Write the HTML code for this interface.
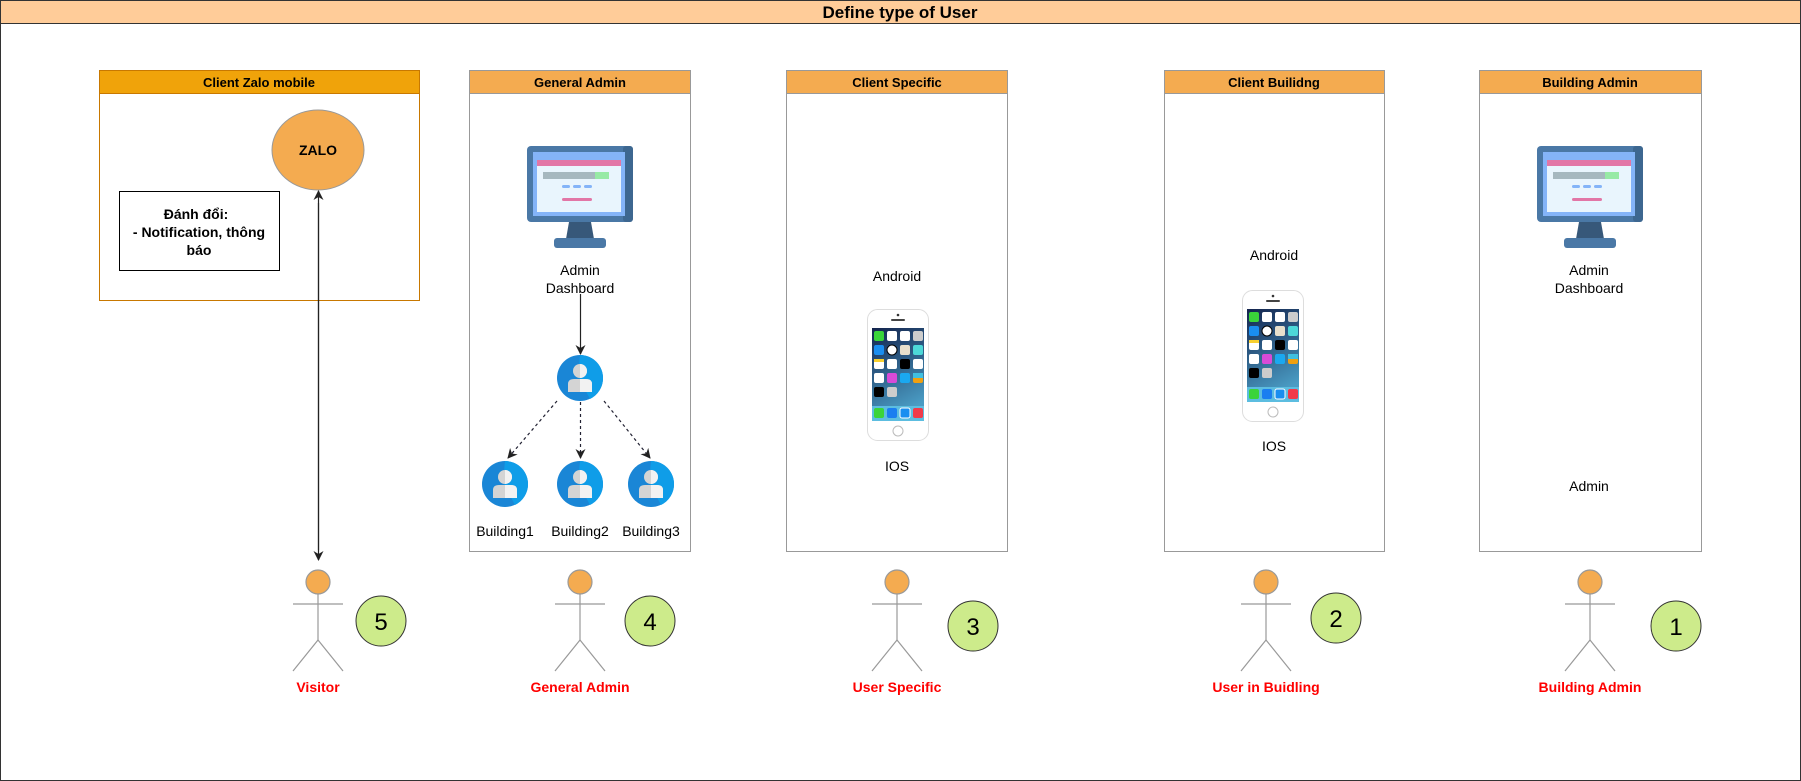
<!DOCTYPE html>
<html><head><meta charset="utf-8"><style>
html,body{margin:0;padding:0;background:#fff;}
svg{display:block;font-family:"Liberation Sans","Noto Sans CJK SC",sans-serif;}
</style></head><body>
<svg width="1801" height="781" viewBox="0 0 1801 781" xmlns="http://www.w3.org/2000/svg">
<defs>
<linearGradient id="scr" x1="0" y1="0" x2="0.3" y2="1"><stop offset="0" stop-color="#13234d"/><stop offset="1" stop-color="#4a9cc4"/></linearGradient>
<marker id="ah" markerWidth="10" markerHeight="10" refX="9" refY="5" orient="auto" markerUnits="userSpaceOnUse"><path d="M0,0 L10,5 L0,10 L3,5 Z" fill="#222"/></marker>
<g id="phone">
<rect x="0.5" y="0.5" width="61" height="131" rx="10" fill="#fff" stroke="#ddd"/>
<circle cx="31" cy="6" r="1.3" fill="#333"/><rect x="24" y="10" width="14" height="2" rx="1" fill="#444"/>
<rect x="5" y="19" width="52" height="93" fill="url(#scr)"/>
<g>
<rect x="7" y="22" width="10" height="10" rx="2" fill="#3ad43a"/><rect x="20" y="22" width="10" height="10" rx="2" fill="#fff"/><rect x="33" y="22" width="10" height="10" rx="2" fill="#fff"/><rect x="46" y="22" width="10" height="10" rx="2" fill="#ccc"/>
<rect x="7" y="36" width="10" height="10" rx="2" fill="#1a8ef0"/><circle cx="25" cy="41" r="5" fill="#fff" stroke="#000"/><rect x="33" y="36" width="10" height="10" rx="2" fill="#e8e0cc"/><rect x="46" y="36" width="10" height="10" rx="2" fill="#4dd8d8"/>
<rect x="7" y="50" width="10" height="10" rx="2" fill="#fff"/><rect x="7" y="50" width="10" height="3" fill="#f8d030"/><rect x="20" y="50" width="10" height="10" rx="2" fill="#fff"/><rect x="33" y="50" width="10" height="10" rx="2" fill="#000"/><rect x="46" y="50" width="10" height="10" rx="2" fill="#fff"/>
<rect x="7" y="64" width="10" height="10" rx="2" fill="#fff"/><rect x="20" y="64" width="10" height="10" rx="2" fill="#d84ad8"/><rect x="33" y="64" width="10" height="10" rx="2" fill="#1aa8f0"/><rect x="46" y="64" width="10" height="10" rx="2" fill="#f0a010"/><rect x="46" y="64" width="10" height="5" fill="#40c0e0"/>
<rect x="7" y="78" width="10" height="10" rx="2" fill="#000"/><rect x="20" y="78" width="10" height="10" rx="2" fill="#ccc"/>
<rect x="5" y="97" width="52" height="15" fill="#5cbde0"/>
<rect x="7" y="99" width="10" height="10" rx="2" fill="#3ad43a"/><rect x="20" y="99" width="10" height="10" rx="2" fill="#1a7ef0"/><rect x="33" y="99" width="10" height="10" rx="2" fill="#1a8ef0" stroke="#fff"/><rect x="46" y="99" width="10" height="10" rx="2" fill="#f03a4a"/>
</g>
<circle cx="31" cy="122" r="5" fill="#fff" stroke="#bbb"/>
</g>
<g id="mon">
<rect x="0" y="0" width="106" height="76" rx="4" fill="#4a78a6"/>
<rect x="96" y="0" width="10" height="76" rx="3" fill="#3d6790"/>
<rect x="6" y="6" width="92" height="64" fill="#84b4f8"/>
<rect x="10" y="14" width="84" height="52" fill="#e9f5fd"/>
<rect x="10" y="14" width="84" height="6" fill="#e276a6"/>
<rect x="16" y="26" width="52" height="7" fill="#a6b8bf"/><rect x="68" y="26" width="14" height="7" fill="#97eaa6"/>
<rect x="35" y="39" width="8" height="3" rx="1.5" fill="#84b4f8"/><rect x="46" y="39" width="8" height="3" rx="1.5" fill="#84b4f8"/><rect x="57" y="39" width="8" height="3" rx="1.5" fill="#84b4f8"/>
<rect x="35" y="52" width="30" height="3" rx="1.5" fill="#e276a6"/>
<polygon points="42,76 64,76 67,93 39,93" fill="#37587a"/>
<rect x="27" y="92" width="52" height="10" rx="3" fill="#4a78a6"/>
</g>
<g id="usr">
<circle cx="0" cy="0" r="23" fill="#1a86d6"/>
<path d="M0,-23 A23,23 0 0 1 23,0 A23,23 0 0 1 10,21 L-2,-2 Z" fill="#0f9de8"/>
<circle cx="0" cy="-7" r="7" fill="#d4d4d4"/>
<path d="M-12,14 L-12,6 Q-12,1 -6,1 L6,1 Q12,1 12,6 L12,14 Z" fill="#d4d4d4"/>
<path d="M0,-14 A7,7 0 0 1 0,0 Z M0,1 L6,1 Q12,1 12,6 L12,14 L0,14 Z" fill="#f2f2f2"/>
</g>
<g id="actor" stroke="#999" stroke-width="1.2" fill="none">
<circle cx="0" cy="0" r="12" fill="#f4ab50"/>
<line x1="0" y1="12" x2="0" y2="58"/>
<line x1="-25" y1="22" x2="25" y2="22"/>
<line x1="0" y1="58" x2="-25" y2="89"/><line x1="0" y1="58" x2="25" y2="89"/>
</g>
</defs>

<rect x="0.5" y="0.5" width="1800" height="780" fill="#fff" stroke="#333"/>
<rect x="0.5" y="0.5" width="1800" height="23" fill="#ffcc99" stroke="#333"/>
<text x="900" y="18" text-anchor="middle" font-size="17" font-weight="bold">Define type of User</text>

<!-- Col 1 -->
<rect x="99.5" y="70.5" width="320" height="230" fill="#fff" stroke="#c87800"/>
<rect x="99.5" y="70.5" width="320" height="23" fill="#f0a30a" stroke="#c87800"/>
<text x="259" y="87" text-anchor="middle" font-size="13" font-weight="bold">Client Zalo mobile</text>
<ellipse cx="318" cy="150" rx="46" ry="40" fill="#f4ab50" stroke="#999"/>
<text x="318" y="155" text-anchor="middle" font-size="14" font-weight="bold">ZALO</text>
<rect x="119.5" y="191.5" width="160" height="79" fill="#fff" stroke="#000"/>
<text text-anchor="middle" font-size="14" font-weight="bold"><tspan x="196" y="219">Đánh đổi:</tspan><tspan x="199" y="237">- Notification, thông</tspan><tspan x="199" y="255">báo</tspan></text>
<line x1="318.5" y1="203" x2="318.5" y2="560" stroke="#222" stroke-width="1.2" marker-end="url(#ah)"/>
<line x1="318.5" y1="550" x2="318.5" y2="191" stroke="#222" stroke-width="1.2" marker-end="url(#ah)"/>
<use href="#actor" x="318" y="582"/>
<circle cx="381" cy="621" r="25" fill="#cdeb8b" stroke="#333"/>
<text x="381" y="630" text-anchor="middle" font-size="24">5</text>
<text x="318" y="692" text-anchor="middle" font-size="14" font-weight="bold" fill="#ff0000">Visitor</text>

<!-- Col 2 -->
<rect x="469.5" y="70.5" width="221" height="481" fill="#fff" stroke="#999"/>
<rect x="469.5" y="70.5" width="221" height="23" fill="#f4ab50" stroke="#999"/>
<text x="580" y="87" text-anchor="middle" font-size="13" font-weight="bold">General Admin</text>
<use href="#mon" x="527" y="146"/>
<text text-anchor="middle" font-size="14"><tspan x="580" y="275">Admin</tspan><tspan x="580" y="293">Dashboard</tspan></text>
<line x1="580.5" y1="294" x2="580.5" y2="354" stroke="#222" stroke-width="1.2" marker-end="url(#ah)"/>
<use href="#usr" x="580" y="378"/>
<g stroke="#223" stroke-width="1.2" stroke-dasharray="3,3" marker-end="url(#ah)">
<line x1="557" y1="401" x2="508" y2="458"/>
<line x1="580.5" y1="402" x2="580.5" y2="458"/>
<line x1="604" y1="401" x2="650" y2="458"/>
</g>
<use href="#usr" x="505" y="484"/><use href="#usr" x="580" y="484"/><use href="#usr" x="651" y="484"/>
<text font-size="14" text-anchor="middle"><tspan x="505" y="536">Building1</tspan><tspan x="580" y="536">Building2</tspan><tspan x="651" y="536">Building3</tspan></text>
<use href="#actor" x="580" y="582"/>
<circle cx="650" cy="621" r="25" fill="#cdeb8b" stroke="#333"/>
<text x="650" y="630" text-anchor="middle" font-size="24">4</text>
<text x="580" y="692" text-anchor="middle" font-size="14" font-weight="bold" fill="#ff0000">General Admin</text>

<!-- Col 3 -->
<rect x="786.5" y="70.5" width="221" height="481" fill="#fff" stroke="#999"/>
<rect x="786.5" y="70.5" width="221" height="23" fill="#f4ab50" stroke="#999"/>
<text x="897" y="87" text-anchor="middle" font-size="13" font-weight="bold">Client Specific</text>
<text x="897" y="281" text-anchor="middle" font-size="14">Android</text>
<use href="#phone" x="867" y="309"/>
<text x="897" y="471" text-anchor="middle" font-size="14">IOS</text>
<use href="#actor" x="897" y="582"/>
<circle cx="973" cy="626" r="25" fill="#cdeb8b" stroke="#333"/>
<text x="973" y="635" text-anchor="middle" font-size="24">3</text>
<text x="897" y="692" text-anchor="middle" font-size="14" font-weight="bold" fill="#ff0000">User Specific</text>

<!-- Col 4 -->
<rect x="1164.5" y="70.5" width="220" height="481" fill="#fff" stroke="#999"/>
<rect x="1164.5" y="70.5" width="220" height="23" fill="#f4ab50" stroke="#999"/>
<text x="1274" y="87" text-anchor="middle" font-size="13" font-weight="bold">Client Builidng</text>
<text x="1274" y="260" text-anchor="middle" font-size="14">Android</text>
<use href="#phone" x="1242" y="290"/>
<text x="1274" y="451" text-anchor="middle" font-size="14">IOS</text>
<use href="#actor" x="1266" y="582"/>
<circle cx="1336" cy="618" r="25" fill="#cdeb8b" stroke="#333"/>
<text x="1336" y="627" text-anchor="middle" font-size="24">2</text>
<text x="1266" y="692" text-anchor="middle" font-size="14" font-weight="bold" fill="#ff0000">User in Buidling</text>

<!-- Col 5 -->
<rect x="1479.5" y="70.5" width="222" height="481" fill="#fff" stroke="#999"/>
<rect x="1479.5" y="70.5" width="222" height="23" fill="#f4ab50" stroke="#999"/>
<text x="1590" y="87" text-anchor="middle" font-size="13" font-weight="bold">Building Admin</text>
<use href="#mon" x="1537" y="146"/>
<text text-anchor="middle" font-size="14"><tspan x="1589" y="275">Admin</tspan><tspan x="1589" y="293">Dashboard</tspan></text>
<text x="1589" y="491" text-anchor="middle" font-size="14">Admin</text>
<use href="#actor" x="1590" y="582"/>
<circle cx="1676" cy="626" r="25" fill="#cdeb8b" stroke="#333"/>
<text x="1676" y="635" text-anchor="middle" font-size="24">1</text>
<text x="1590" y="692" text-anchor="middle" font-size="14" font-weight="bold" fill="#ff0000">Building Admin</text>
</svg>
</body></html>
